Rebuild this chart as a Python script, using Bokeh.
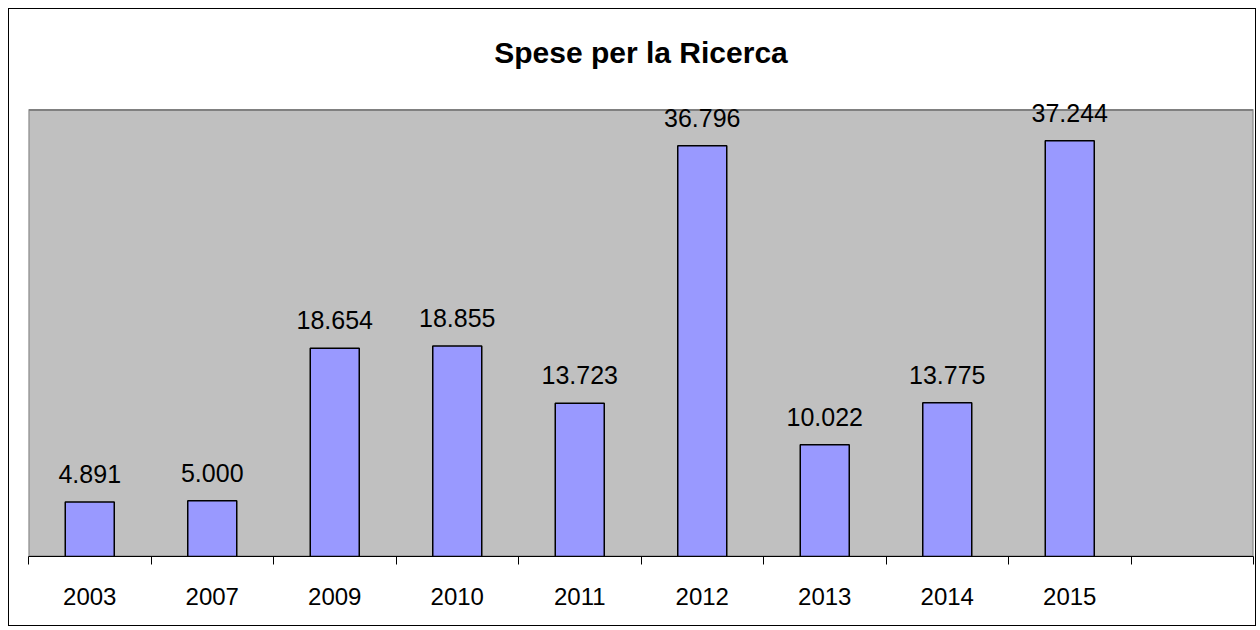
from bokeh.plotting import figure
from bokeh.models import (ColumnDataSource, Range1d, LinearAxis,
                          FixedTicker, Label, CustomJSTickFormatter)
from bokeh.embed import file_html
from bokeh.resources import INLINE

years = ["2003", "2007", "2009", "2010", "2011", "2012", "2013", "2014", "2015"]
values = [4891, 5000, 18654, 18855, 13723, 36796, 10022, 13775, 37244]
labels = ["4.891", "5.000", "18.654", "18.855", "13.723", "36.796", "10.022", "13.775", "37.244"]
n_slots = len(years) + 1  # one empty slot on the right
y_max = 40000
title_text = "Spese per la Ricerca"

FONT = "Liberation Sans"

# layout (pixels)
W, H = 1248, 618
B_TOP, B_BOTTOM = 20, 71
frame_h = H - B_TOP - B_BOTTOM
plot_area_h = 446.5          # height of the grey plot area
y_top = y_max * frame_h / plot_area_h

centers = [i + 0.5 for i in range(len(years))]
src = ColumnDataSource(data=dict(x=centers, year=years, value=values, label=labels))

p = figure(width=W, height=H, output_backend="svg", toolbar_location=None,
           x_range=Range1d(0, n_slots), y_range=Range1d(0, y_top),
           x_axis_location=None, y_axis_location=None,
           min_border_left=19, min_border_right=4, min_border_top=B_TOP, min_border_bottom=B_BOTTOM)
p.styles = {"border": "1.5px solid black", "margin": "8px 0 0 8px"}

p.background_fill_color = "white"
p.border_fill_color = "white"
p.outline_line_color = None
p.xgrid.visible = False
p.ygrid.visible = False

# grey plot area
p.quad(left=[0], right=[n_slots], bottom=[0], top=[y_max],
       fill_color="#C0C0C0", line_color="#808080", line_width=2)

tick_axis = LinearAxis(ticker=FixedTicker(ticks=list(range(n_slots + 1))),
                       formatter=CustomJSTickFormatter(code="return '';"),
                       major_tick_out=8, major_tick_in=0,
                       minor_tick_line_color=None, axis_line_color="black",
                       major_tick_line_color="black", axis_line_width=1.2, major_label_standoff=0)
p.add_layout(tick_axis, "below")

label_axis = LinearAxis(ticker=FixedTicker(ticks=centers),
                        formatter=CustomJSTickFormatter(args=dict(names=years),
                                                        code="return names[Math.floor(tick)] || '';"),
                        axis_line_color=None, major_tick_line_color=None,
                        minor_tick_line_color=None, major_label_standoff=17,
                        major_label_text_font=FONT, major_label_text_font_size="24px",
                        major_label_text_color="black")
p.add_layout(label_axis, "below")

p.vbar(x="x", top="value", width=0.4, bottom=0, source=src,
       fill_color="#9999FF", line_color="black", line_width=1.5)

for xc, v, lab in zip(centers, values, labels):
    p.add_layout(Label(x=xc, y=v, text=lab, y_offset=28,
                       text_align="center", text_baseline="alphabetic",
                       text_font=FONT, text_font_size="25px", text_color="black"))

# chart title, centred over the plot area
p.add_layout(Label(x=n_slots / 2, y=y_max, y_offset=58, text=title_text,
                   text_align="center", text_baseline="middle",
                   text_font=FONT, text_font_size="30px", text_font_style="bold",
                   text_color="black"))

open("out.html", "w").write(file_html(p, INLINE))
